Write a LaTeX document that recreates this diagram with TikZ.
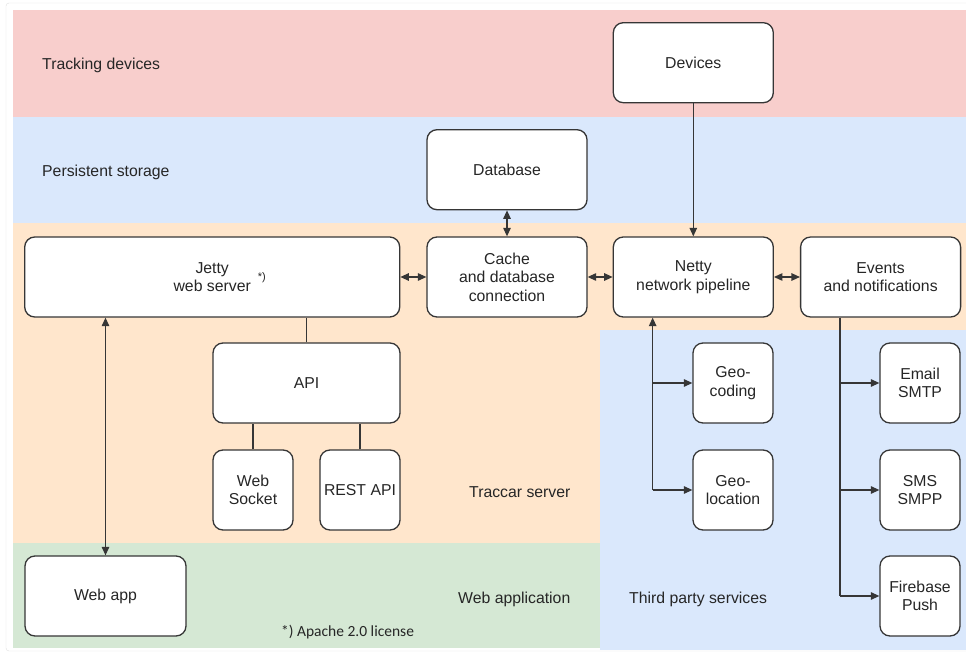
\documentclass[tikz,border=0pt]{standalone}
\usepackage{fontspec}
\setmainfont{Liberation Sans}
\newfontfamily\notefont{Carlito}
\usetikzlibrary{positioning,arrows.meta}

\definecolor{bandred}{HTML}{F8CECC}
\definecolor{bandblue}{HTML}{DAE8FC}
\definecolor{bandorange}{HTML}{FFE6CC}
\definecolor{bandgreen}{HTML}{D5E8D4}
\definecolor{linegray}{HTML}{363636}
\definecolor{textgray}{HTML}{262626}

\tikzset{
  box/.style={draw=linegray, fill=white, rounded corners=10pt, line width=1.3pt,
    minimum width=160pt, minimum height=80pt, align=center, inner sep=2pt,
    text=textgray},
  smallbox/.style={box, minimum width=80pt},
  band/.style={anchor=west, inner sep=0pt, text=textgray},
  link/.style={draw=linegray, line width=1.2pt},
}

\begin{document}
\begin{tikzpicture}[x=1pt,y=-1pt,>={Triangle[length=8.5pt,width=7.5pt]},
    font=\fontsize{15.8}{18.5}\selectfont]

    \useasboundingbox (0,0) rectangle (966,652);

    % 背景分层
    \draw[gray!25, rounded corners=3pt] (6,3) rectangle (980,651);
    \fill[bandred]    (13,10)   rectangle (966,117);
    \fill[bandblue]   (13,117)  rectangle (966,223);
    \fill[bandorange] (13,223)  rectangle (966,330);
    \fill[bandorange] (13,330)  rectangle (600,543);
    \fill[bandgreen]  (13,543)  rectangle (600,648);
    \fill[bandblue]   (600,330) rectangle (966,650);

    % 各层标题
    \node[band] (lbltrack)  at (42,65)   {Tracking devices};
    \node[band] (lblstore)  at (42,172)  {Persistent storage};
    \node[band] (lblserver) at (469,492) {Traccar server};
    \node[band] (lblwebapp) at (458,599) {Web application};
    \node[band] (lblthird)  at (629,599) {Third party services};
    \node[band, font=\notefont\fontsize{15.5}{17}\selectfont] (lbllicense) at (281,632)
        {*) Apache 2.0 license};

    % 设置节点(服务器)
    \node[box] (cache)    at (507,277)          {Cache\\and database\\connection};
    \node[box] (netty)    [right=25pt of cache] {Netty\\network pipeline};
    \node[box] (events)   [right=26pt of netty] {Events\\and notifications};
    \node[box] (database) [above=26pt of cache] {Database};
    \node[box] (devices)  [above=133pt of netty] {Devices};
    \node[box, minimum width=375pt] (jetty) [left=26pt of cache]
        {Jetty\\web server\rlap{\hspace{7pt}\smash{\raisebox{11pt}{\fontsize{11}{11}\selectfont *)}}}};

    \node[box, minimum width=187pt] (api) at (306.5,383) {API};
    \node[smallbox] (websocket) at (253,490)   {Web\\Socket};
    \node[smallbox] (rest)      at (360,490)   {REST API};
    \node[box, minimum width=161pt] (webapp) at (105.5,596) {Web app};

    % 第三方服务
    \node[smallbox] (geocod) at (733,383) {Geo-\\coding};
    \node[smallbox] (geoloc) at (733,490) {Geo-\\location};
    \node[smallbox] (email)  at (920,383) {Email\\SMTP};
    \node[smallbox] (sms)    at (920,490) {SMS\\SMPP};
    \node[smallbox] (push)   at (920,596) {Firebase\\Push};

    \coordinate (nb) at ([xshift=40pt]netty.south west);
    \coordinate (eb) at ([xshift=40pt]events.south west);

    % 画出连线
    \draw[link, ->]  (devices) -- (netty);
    \draw[link, <->] (database) -- (cache);
    \draw[link, <->] (jetty) -- (cache);
    \draw[link, <->] (cache) -- (netty);
    \draw[link, <->] (netty) -- (events);
    \draw[link, <->] (webapp.north) -- (webapp.north |- jetty.south);

    \draw[link] (api.north) -- (api.north |- jetty.south);
    \draw[link] (websocket.north) -- (websocket.north |- api.south);
    \draw[link] (rest.north) -- (rest.north |- api.south);

    % Netty -> 地理服务
    \draw[link, ->] (nb |- geoloc.west) -- (nb);
    \draw[link, ->] (nb |- geocod.west) -- (geocod.west);
    \draw[link, ->] (nb |- geoloc.west) -- (geoloc.west);

    % 事件 -> 通知
    \draw[link] (eb) -- (eb |- push.west);
    \draw[link, ->] (eb |- email.west) -- (email.west);
    \draw[link, ->] (eb |- sms.west) -- (sms.west);
    \draw[link, ->] (eb |- push.west) -- (push.west);

\end{tikzpicture}
\end{document}
